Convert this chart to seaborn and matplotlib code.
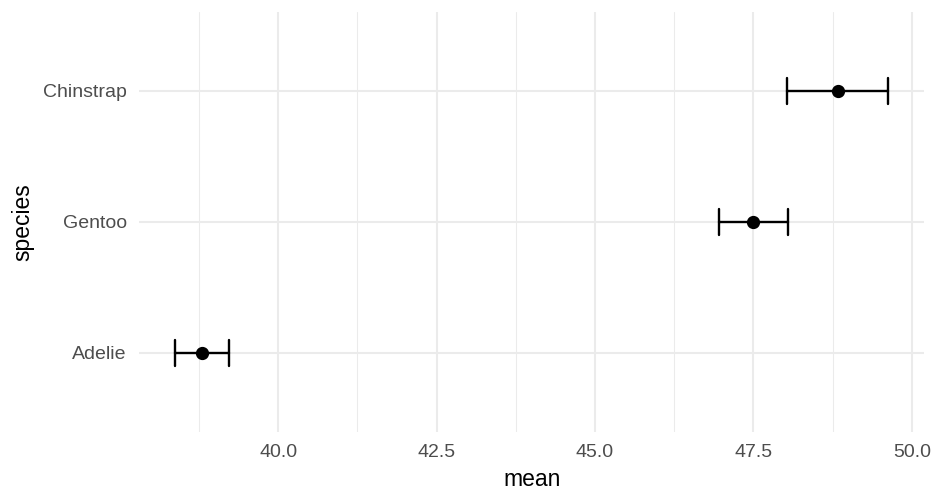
import pandas as pd
import matplotlib
matplotlib.use("Agg")
import matplotlib.pyplot as plt
import matplotlib.ticker as mticker
import seaborn as sns

# summary values (mean bill length with 95% CI)
species = ["Chinstrap", "Gentoo", "Adelie"]
mean = [48.83, 47.50, 38.79]
lower = [48.03, 46.96, 38.37]
upper = [49.63, 48.05, 39.22]

# long table: lower / mean / upper per species, median = mean, min..max = CI
rows = []
for s, lo, m, hi in zip(species, lower, mean, upper):
    for v in (lo, m, hi):
        rows.append({"species": s, "mean": v})
df = pd.DataFrame(rows)

sns.set_theme(style="whitegrid")
plt.rcParams["font.family"] = ["Liberation Sans", "DejaVu Sans"]

fig, ax = plt.subplots(figsize=(9.36, 5.04), dpi=100)
fig.subplots_adjust(left=0.1488, right=0.9872, top=0.9754, bottom=0.1437)

sns.pointplot(data=df, x="mean", y="species", order=species,
              estimator="median", errorbar=("pi", 100),
              linestyle="none", marker="o", markersize=7.5,
              color="black", capsize=0.2,
              err_kws={"linewidth": 1.7}, ax=ax)

# ggplot-like 5% expansion on x, 0.6 on the discrete axis
lo_all, hi_all = min(lower), max(upper)
pad = (hi_all - lo_all) * 0.05
ax.set_xlim(lo_all - pad, hi_all + pad)
ax.set_ylim(len(species) - 1 + 0.6, -0.6)

ax.xaxis.set_major_locator(mticker.MultipleLocator(2.5))
ax.xaxis.set_major_formatter(mticker.FormatStrFormatter("%.1f"))
ax.xaxis.set_minor_locator(mticker.AutoMinorLocator(2))

ax.set_facecolor("white")
for sp in ax.spines.values():
    sp.set_visible(False)
ax.grid(which="major", color="#EBEBEB", linewidth=1.5)
ax.grid(which="minor", axis="x", color="#EBEBEB", linewidth=0.75)
ax.set_axisbelow(True)

ax.tick_params(axis="both", which="both", length=0, labelsize=14,
               labelcolor="#4D4D4D")
ax.tick_params(axis="x", pad=9)
ax.tick_params(axis="y", pad=9)

ax.set_xlabel("mean", fontsize=16.5, color="black", labelpad=5)
ax.set_ylabel("species", fontsize=16.5, color="black", labelpad=6)

plt.savefig("out.png", dpi=100)
